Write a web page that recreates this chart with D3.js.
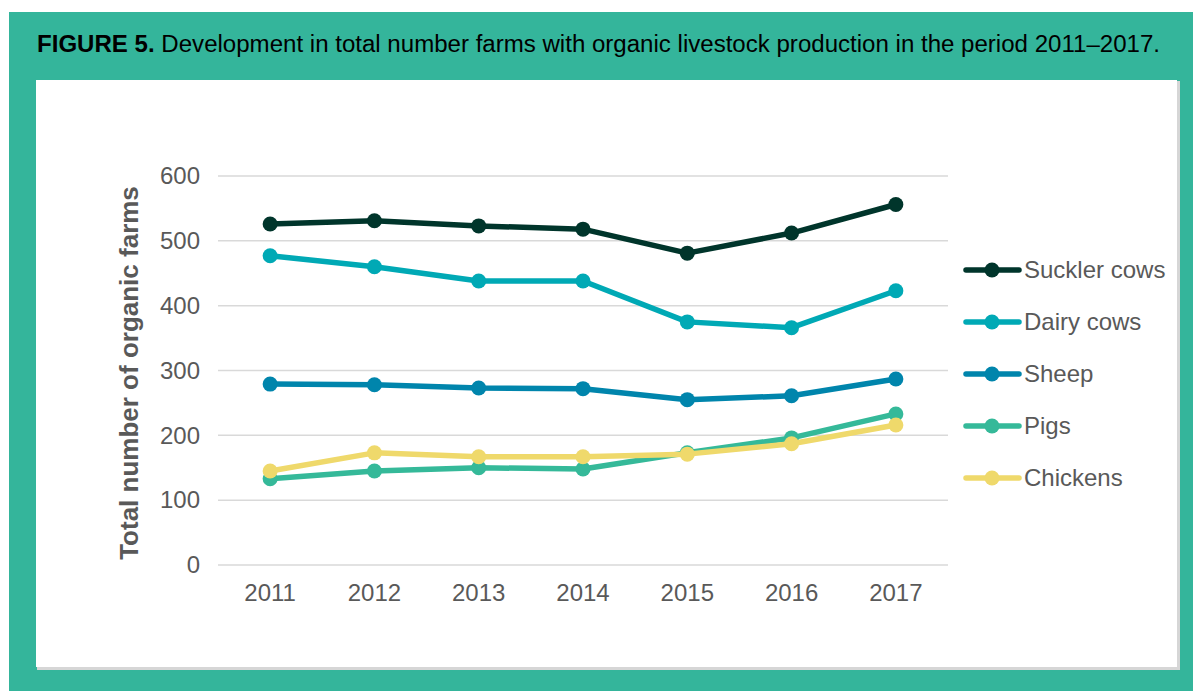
<!DOCTYPE html>
<html><head><meta charset="utf-8">
<script src="https://cdn.jsdelivr.net/npm/d3@7"></script>
<style>
html,body{margin:0;padding:0;background:#fff;}
svg{display:block;font-family:"Liberation Sans",Arial,sans-serif;}
</style></head>
<body><svg id="c" width="1193" height="691"></svg>
<script>
const years = ["2011","2012","2013","2014","2015","2016","2017"];
const seriesNames = ["Suckler cows","Dairy cows","Sheep","Pigs","Chickens"];
const sucklerCows = [526, 531, 523, 518, 481, 512, 556];
const dairyCows   = [477, 460, 438, 438, 375, 366, 423];
const sheep       = [279, 278, 273, 272, 255, 261, 287];
const pigs        = [133, 145, 150, 148, 173, 196, 233];
const chickens    = [145, 173, 167, 167, 171, 187, 216];
const yTicks = [0,100,200,300,400,500,600];
const colors = ["#00352b","#00a9b5","#0085ac","#35b999","#efd96b"];
const values = [sucklerCows, dairyCows, sheep, pigs, chickens];

const svg = d3.select("#c");
svg.append("rect").attr("x",9).attr("y",12).attr("width",1184).attr("height",679).attr("fill","#34b59b");
svg.append("rect").attr("x",37).attr("y",81).attr("width",1143).attr("height",589).attr("fill","#d6d6d6");
svg.append("rect").attr("x",36).attr("y",80).attr("width",1141).attr("height",587).attr("fill","#fff");

const title = svg.append("text").attr("x",37).attr("y",52).attr("font-size",23.5).attr("fill","#000")
  .attr("textLength",1123).attr("lengthAdjust","spacingAndGlyphs");
title.append("tspan").attr("font-weight","bold").text("FIGURE 5.");
title.append("tspan").text(" Development in total number farms with organic livestock production in the period 2011\u20132017.");

const x = d3.scaleBand().domain(years).range([218,948]);
const y = d3.scaleLinear().domain([0,600]).range([565,176]);

const grid = svg.append("g");
grid.selectAll("line").data(yTicks).join("line")
  .attr("x1",218).attr("x2",948)
  .attr("y1",d=>y(d)).attr("y2",d=>y(d))
  .attr("stroke","#d9d9d9").attr("stroke-width",1.5);

const yAxis = svg.append("g").attr("transform","translate(218,0)")
  .call(d3.axisLeft(y).tickValues(yTicks).tickSize(0).tickPadding(18));
yAxis.select(".domain").remove();
yAxis.selectAll("text").attr("font-size",24).attr("fill","#595959").attr("font-family","Liberation Sans, Arial, sans-serif");

const xAxis = svg.append("g").attr("transform","translate(0,565)")
  .call(d3.axisBottom(x).tickSize(0).tickPadding(19));
xAxis.select(".domain").remove();
xAxis.selectAll("text").attr("font-size",24).attr("fill","#595959").attr("font-family","Liberation Sans, Arial, sans-serif");

svg.append("text").attr("transform","translate(138,373) rotate(-90)")
  .attr("text-anchor","middle").attr("font-size",26).attr("font-weight","bold").attr("fill","#595959")
  .text("Total number of organic farms");

const line = d3.line().x((d,i)=>x(years[i])+x.bandwidth()/2).y(d=>y(d));
values.forEach((vals,si)=>{
  const g = svg.append("g");
  g.append("path").attr("d",line(vals)).attr("fill","none").attr("stroke",colors[si])
    .attr("stroke-width",5.5).attr("stroke-linejoin","round").attr("stroke-linecap","round");
  g.selectAll("circle").data(vals).join("circle")
    .attr("cx",(d,i)=>x(years[i])+x.bandwidth()/2).attr("cy",d=>y(d)).attr("r",7.5).attr("fill",colors[si]);
});

const lg = svg.append("g");
seriesNames.forEach((n,i)=>{
  const yy = 270 + i*52;
  lg.append("line").attr("x1",966).attr("x2",1019).attr("y1",yy).attr("y2",yy)
    .attr("stroke",colors[i]).attr("stroke-width",5.5).attr("stroke-linecap","round");
  lg.append("circle").attr("cx",992).attr("cy",yy).attr("r",7.5).attr("fill",colors[i]);
  lg.append("text").attr("x",1024).attr("y",yy+8).attr("font-size",24).attr("fill","#595959").text(n);
});
</script></body></html>
